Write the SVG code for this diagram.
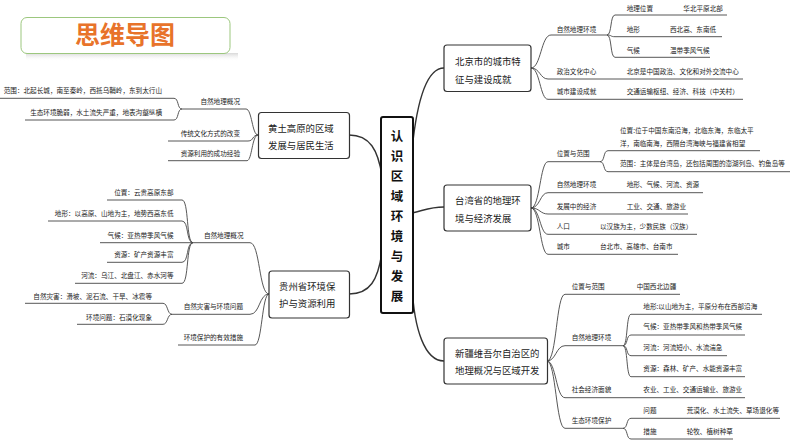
<svg xmlns="http://www.w3.org/2000/svg" width="794" height="447" viewBox="0 0 794 447">
<style>
text{font-family:"Noto Sans CJK SC","Noto Sans",sans-serif;fill:#222}
.s{font-size:6.6px}
.e{text-anchor:end}
.b{font-size:9.4px}
.c{font-size:12.5px;font-weight:bold;text-anchor:middle;fill:#111}
.main{fill:none;stroke:#333;stroke-width:1.4}
.ln{fill:none;stroke:#444;stroke-width:0.9}
.box{fill:#fff;stroke:#333;stroke-width:1.2}
</style>
<defs>
<linearGradient id="sh" x1="0" y1="0" x2="0" y2="1">
<stop offset="0" stop-color="#d8d8d8"/>
<stop offset="1" stop-color="#fff" stop-opacity="0"/>
</linearGradient>
</defs>
<rect width="794" height="447" fill="#fff"/>
<g id="title">
<rect x="26" y="53" width="212" height="8" fill="url(#sh)"/>
<rect x="21" y="17.5" width="209" height="36" rx="6" fill="#fff" stroke="#9cc77e" stroke-width="1"/>
<text x="125" y="44" style="font-size:25px;font-weight:bold;fill:#e8732a;text-anchor:middle">思维导图</text>
</g>
<g id="connectors">
<path class="main" d="M349,135 C370,135 378,150 382,176"/>
<path class="main" d="M349,294 C370,294 378,280 382,252"/>
<path class="main" d="M412,150 C416,110 424,68 444,68"/>
<path class="main" d="M412,213 C425,210 430,207 444,207"/>
<path class="main" d="M412,285 C414,330 425,361 444,361"/>
<!-- Beijing -->
<path class="ln" d="M531,68 C541,68 541,35 551,35 L607,35"/>
<path class="ln" d="M607,35 C612,35 610,15 615,15 L727,15"/>
<path class="ln" d="M607,35 C612,35 610,36.7 615,36.7 L722,36.7"/>
<path class="ln" d="M607,35 C612,35 610,57.3 615,57.3 L710,57.3"/>
<path class="ln" d="M531,68 C540,68 540,79 548,79 L743,79"/>
<path class="ln" d="M531,68 C540,68 540,99.3 548,99.3 L743,99.3"/>
<!-- Taiwan -->
<path class="ln" d="M531,208 C540,208 540,161.7 548,161.7 L600,161.7"/>
<path class="ln" d="M600,161.7 C605,161.7 603,150.7 608,150.7 L760,150.7"/>
<path class="ln" d="M600,161.7 C605,161.7 603,171.7 608,171.7 L790,171.7"/>
<path class="ln" d="M531,208 C540,208 540,192.7 548,192.7 L703,192.7"/>
<path class="ln" d="M531,208 C540,208 540,214 548,214 L688,214"/>
<path class="ln" d="M531,208 C540,208 540,234.3 548,234.3 L697,234.3"/>
<path class="ln" d="M531,208 C540,208 540,254.3 548,254.3 L678,254.3"/>
<!-- Xinjiang -->
<path class="ln" d="M547,361 C557,361 556,294.3 565,294.3 L680,294.3"/>
<path class="ln" d="M547,361 C556,361 556,345.7 565,345.7 L623,345.7"/>
<path class="ln" d="M623,345.7 C628,345.7 626,314.3 631,314.3 L762,314.3"/>
<path class="ln" d="M623,345.7 C628,345.7 626,335 631,335 L745,335"/>
<path class="ln" d="M623,345.7 C628,345.7 626,355.7 631,355.7 L727,355.7"/>
<path class="ln" d="M623,345.7 C628,345.7 626,376.7 631,376.7 L745,376.7"/>
<path class="ln" d="M547,361 C556,361 556,397.7 565,397.7 L745,397.7"/>
<path class="ln" d="M547,361 C556,361 556,428.3 565,428.3 L623,428.3"/>
<path class="ln" d="M623,428.3 C628,428.3 626,418.3 631,418.3 L780,418.3"/>
<path class="ln" d="M623,428.3 C628,428.3 626,439 631,439 L733,439"/>
<!-- Loess -->
<path class="ln" d="M258,135 C252,135 252,109 246,109 L182,109"/>
<path class="ln" d="M182,109 C177,109 179,98.3 174,98.3 L0,98.3"/>
<path class="ln" d="M182,109 C177,109 179,120 174,120 L25,120"/>
<path class="ln" d="M258,135 C252,135 254,141 248,141 L168,141"/>
<path class="ln" d="M258,135 C252,135 252,160.7 247,160.7 L168,160.7"/>
<!-- Guizhou -->
<path class="ln" d="M269,294 C259,294 260,242.7 250,242.7 L193,242.7"/>
<path class="ln" d="M193,242.7 C186,242.7 189,200 182,200 L107,200"/>
<path class="ln" d="M193,242.7 C186,242.7 189,221 182,221 L48,221"/>
<path class="ln" d="M193,242.7 L100,242.7"/>
<path class="ln" d="M193,242.7 C186,242.7 189,262.3 182,262.3 L107,262.3"/>
<path class="ln" d="M193,242.7 C186,242.7 189,283.3 182,283.3 L75,283.3"/>
<path class="ln" d="M269,294 C259,294 260,314.3 250,314.3 L172,314.3"/>
<path class="ln" d="M172,314.3 C167,314.3 168,303.3 163,303.3 L25,303.3"/>
<path class="ln" d="M172,314.3 C167,314.3 168,324.3 163,324.3 L77,324.3"/>
<path class="ln" d="M269,294 C262,294 262,345 255,345 L178,345"/>
</g>
<g id="center">
<rect x="381" y="117" width="32" height="196" rx="2" fill="#fff" stroke="#111" stroke-width="2"/>
<text class="c" x="397" y="141">认</text>
<text class="c" x="397" y="161">识</text>
<text class="c" x="397" y="181">区</text>
<text class="c" x="397" y="201">域</text>
<text class="c" x="397" y="221">环</text>
<text class="c" x="397" y="241">境</text>
<text class="c" x="397" y="261">与</text>
<text class="c" x="397" y="281">发</text>
<text class="c" x="397" y="301">展</text>
</g>
<g id="loess">
<rect class="box" x="258.5" y="112.5" width="91" height="46" rx="3"/>
<text class="b" x="268" y="131.5">黄土高原的区域</text>
<text class="b" x="268" y="148.5">发展与居民生活</text>
<text class="s e" x="240" y="104">自然地理概况</text>
<text class="s e" x="162" y="93">范围：北起长城，南至秦岭，西抵乌鞘岭，东到太行山</text>
<text class="s e" x="162" y="114.5">生态环境脆弱，水土流失严重，地表沟壑纵横</text>
<text class="s e" x="240" y="136">传统文化方式的改变</text>
<text class="s e" x="240" y="155.5">资源利用的成功经验</text>
</g>
<g id="guizhou">
<rect class="box" x="269" y="271" width="80.5" height="47" rx="3"/>
<text class="b" x="279" y="290">贵州省环境保</text>
<text class="b" x="279" y="307">护与资源利用</text>
<text class="s e" x="243.5" y="237.5">自然地理概况</text>
<text class="s e" x="173.5" y="195">位置：云贵高原东部</text>
<text class="s e" x="173.5" y="216">地形：以高原、山地为主，地势西高东低</text>
<text class="s e" x="173.5" y="237.5">气候：亚热带季风气候</text>
<text class="s e" x="173.5" y="257.3">资源：矿产资源丰富</text>
<text class="s e" x="173.5" y="278.3">河流：乌江、北盘江、赤水河等</text>
<text class="s e" x="243" y="309.2">自然灾害与环境问题</text>
<text class="s e" x="152" y="298.7">自然灾害：滑坡、泥石流、干旱、冰雹等</text>
<text class="s e" x="152" y="319.5">环境问题：石漠化现象</text>
<text class="s e" x="243" y="340">环境保护的有效措施</text>
</g>
<g id="beijing">
<rect class="box" x="444" y="45" width="87" height="46.5" rx="3"/>
<text class="b" x="455" y="65">北京市的城市特</text>
<text class="b" x="455" y="82.5">征与建设成就</text>
<text class="s" x="556.7" y="31.7">自然地理环境</text>
<text class="s" x="626.7" y="10.7">地理位置</text>
<text class="s" x="683.3" y="10.7">华北平原北部</text>
<text class="s" x="626.7" y="31.9">地形</text>
<text class="s" x="670" y="31.9">西北高、东南低</text>
<text class="s" x="626.7" y="52.6">气候</text>
<text class="s" x="670" y="52.6">温带季风气候</text>
<text class="s" x="556.7" y="73.5">政治文化中心</text>
<text class="s" x="626.7" y="73.5">北京是中国政治、文化和对外交流中心</text>
<text class="s" x="556.7" y="94">城市建设成就</text>
<text class="s" x="626.7" y="94">交通运输枢纽、经济、科技（中关村）</text>
</g>
<g id="taiwan">
<rect class="box" x="444" y="185" width="87" height="46" rx="3"/>
<text class="b" x="455" y="204.3">台湾省的地理环</text>
<text class="b" x="455" y="221.7">境与经济发展</text>
<text class="s" x="556.7" y="156.2">位置与范围</text>
<text class="s" x="620" y="133.3">位置:位于中国东南沿海，北临东海，东临太平</text>
<text class="s" x="620" y="145.9">洋，南临南海，西隔台湾海峡与福建省相望</text>
<text class="s" x="620" y="166.2">范围：主体是台湾岛，还包括周围的澎湖列岛、钓鱼岛等</text>
<text class="s" x="556.7" y="187">自然地理环境</text>
<text class="s" x="626.7" y="187">地形、气候、河流、资源</text>
<text class="s" x="556.7" y="208.5">发展中的经济</text>
<text class="s" x="626.7" y="208.5">工业、交通、旅游业</text>
<text class="s" x="556.7" y="229.2">人口</text>
<text class="s" x="600" y="229.2">以汉族为主，少数民族（汉族）</text>
<text class="s" x="556.7" y="249.2">城市</text>
<text class="s" x="600" y="249.2">台北市、高雄市、台南市</text>
</g>
<g id="xinjiang">
<rect class="box" x="444" y="338" width="103.5" height="46" rx="3"/>
<text class="b" x="455" y="356.6">新疆维吾尔自治区的</text>
<text class="b" x="455" y="374.3">地理概况与区域开发</text>
<text class="s" x="571.7" y="288.5">位置与范围</text>
<text class="s" x="636.7" y="288.5">中国西北边疆</text>
<text class="s" x="571.7" y="340.4">自然地理环境</text>
<text class="s" x="643.3" y="308.5">地形:以山地为主，平原分布在西部沿海</text>
<text class="s" x="643.3" y="329.3">气候：亚热带季风和热带季风气候</text>
<text class="s" x="643.3" y="350.3">河流：河流短小、水流湍急</text>
<text class="s" x="643.3" y="371">资源：森林、矿产、水能资源丰富</text>
<text class="s" x="571.7" y="391.8">社会经济面貌</text>
<text class="s" x="643.3" y="391.8">农业、工业、交通运输业、旅游业</text>
<text class="s" x="571.7" y="422.8">生态环境保护</text>
<text class="s" x="643.3" y="412.8">问题</text>
<text class="s" x="686.7" y="412.8">荒漠化、水土流失、草场退化等</text>
<text class="s" x="643.3" y="433.5">措施</text>
<text class="s" x="686.7" y="433.5">轮牧、植树种草</text>
</g>
</svg>
